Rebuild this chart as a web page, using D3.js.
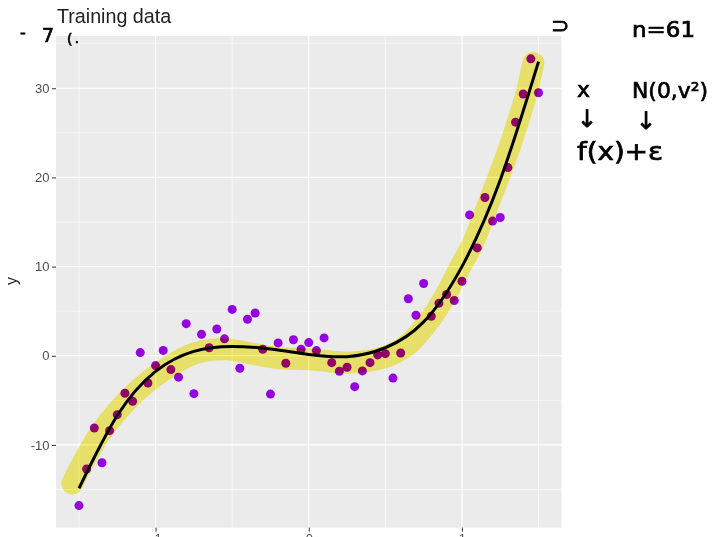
<!DOCTYPE html>
<html>
<head>
<meta charset="utf-8">
<script src="https://cdn.jsdelivr.net/npm/d3@7"></script>
<style>
  html, body { margin: 0; padding: 0; background: #ffffff; }
  svg { display: block; }
  .hand { font-family: "DejaVu Sans", sans-serif; fill: #000; stroke: #000; stroke-width: 0.7px; }
</style>
</head>
<body>
<svg id="chart" width="712" height="537"></svg>
<script>
// Training sample: x on a regular grid, noisy y observations
const pointX = [-1.5,-1.45,-1.4,-1.35,-1.3,-1.25,-1.2,-1.15,-1.1,-1.05,-1.0,
  -0.95,-0.9,-0.85,-0.8,-0.75,-0.7,-0.65,-0.6,-0.55,-0.5,
  -0.45,-0.4,-0.35,-0.3,-0.25,-0.2,-0.15,-0.1,-0.05,0.0,
  0.05,0.1,0.15,0.2,0.25,0.3,0.35,0.4,0.45,0.5,
  0.55,0.6,0.65,0.7,0.75,0.8,0.85,0.9,0.95,1.0,
  1.05,1.1,1.15,1.2,1.25,1.3,1.35,1.4,1.45,1.5];
const pointY = [-16.8,-12.7,-8.1,-12.0,-8.4,-6.6,-4.2,-5.1,0.36,-3.05,-1.1,
  0.6,-1.55,-2.4,3.6,-4.25,2.4,0.9,3.0,1.9,5.2,
  -1.4,4.1,4.8,0.73,-4.3,1.44,-0.84,1.8,0.73,1.48,
  0.58,2.0,-0.77,-1.74,-1.29,-3.46,-1.7,-0.77,0.1,0.24,
  -2.5,0.31,6.4,4.55,8.1,4.43,5.9,6.87,6.2,8.36,
  15.8,12.1,17.75,15.1,15.5,21.1,26.2,29.35,33.3,29.5];

// True regression function f(x)
const curveX = [-1.5,-1.25,-1.0,-0.75,-0.5,-0.25,0.0,0.25,0.5,0.75,1.0,1.25,1.5];
const curveY = [-14.86,-6.7,-1.75,0.5,1.05,0.75,0.15,-0.1,0.9,3.8,10.0,19.7,32.98];

// Highlighter stroke traced along f(x)
const markX = [-1.544,-1.459,-1.362,-1.244,-1.101,-0.938,-0.743,-0.547,-0.352,-0.189,0.007,0.202,0.365,0.528,0.658,0.788,0.886,0.984,1.062,1.127,1.192,1.257,1.322,1.375,1.427,1.466];
const markY = [-14.31,-11.5,-8.7,-6.12,-3.65,-1.52,0.28,0.73,0.17,-0.28,-0.39,-0.73,-0.62,0.06,1.4,3.98,6.57,9.82,12.29,14.98,17.9,20.82,23.96,26.77,29.8,32.83];

const xMajor = [-1, 0, 1];
const xMinor = [-1.5, -0.5, 0.5, 1.5];
const yMajor = [-10, 0, 10, 20, 30];
const yMinor = [-15, -5, 5, 15, 25, 35];

const svg = d3.select("#chart");
const panel = { left: 56, right: 561.5, top: 36, bottom: 527.7 };

const x = d3.scaleLinear().domain([-1.65, 1.65]).range([panel.left, panel.right]);
const y = d3.scaleLinear().domain([-19.28, 35.86]).range([panel.bottom, panel.top]);

// Panel background
svg.append("rect")
  .attr("x", panel.left).attr("y", panel.top)
  .attr("width", panel.right - panel.left).attr("height", panel.bottom - panel.top)
  .attr("fill", "#EBEBEB");

const grid = svg.append("g");
grid.selectAll("line.ymin").data(yMinor).join("line")
  .attr("x1", panel.left).attr("x2", panel.right)
  .attr("y1", d => y(d)).attr("y2", d => y(d))
  .attr("stroke", "#fff").attr("stroke-width", 0.6);
grid.selectAll("line.xmin").data(xMinor).join("line")
  .attr("y1", panel.top).attr("y2", panel.bottom)
  .attr("x1", d => x(d)).attr("x2", d => x(d))
  .attr("stroke", "#fff").attr("stroke-width", 0.6);
grid.selectAll("line.ymaj").data(yMajor).join("line")
  .attr("x1", panel.left).attr("x2", panel.right)
  .attr("y1", d => y(d)).attr("y2", d => y(d))
  .attr("stroke", "#fff").attr("stroke-width", 1.2);
grid.selectAll("line.xmaj").data(xMajor).join("line")
  .attr("y1", panel.top).attr("y2", panel.bottom)
  .attr("x1", d => x(d)).attr("x2", d => x(d))
  .attr("stroke", "#fff").attr("stroke-width", 1.2);

// Axes (plain hyphen-minus labels)
const fmt = d => String(d);
const yAxis = d3.axisLeft(y).tickValues(yMajor).tickFormat(fmt).tickSize(4).tickPadding(2.5);
const gy = svg.append("g").attr("transform", `translate(${panel.left},0)`).call(yAxis);
gy.select(".domain").remove();
gy.selectAll(".tick line").attr("stroke", "#333").attr("stroke-width", 1);
gy.selectAll(".tick text").attr("fill", "#4D4D4D")
  .style("font-family", "'Liberation Sans', Arial, sans-serif").style("font-size", "13px");

const xAxis = d3.axisBottom(x).tickValues(xMajor).tickFormat(fmt).tickSize(4).tickPadding(2.5);
const gx = svg.append("g").attr("transform", `translate(0,${panel.bottom})`).call(xAxis);
gx.select(".domain").remove();
gx.selectAll(".tick line").attr("stroke", "#333").attr("stroke-width", 1);
gx.selectAll(".tick text").attr("fill", "#4D4D4D")
  .style("font-family", "'Liberation Sans', Arial, sans-serif").style("font-size", "13px");

// Axis title
svg.append("text")
  .attr("transform", "translate(17,281) rotate(-90)")
  .attr("text-anchor", "middle")
  .style("font-family", "'Liberation Sans', Arial, sans-serif").style("font-size", "16px")
  .attr("fill", "#222").text("y");

// Plot title
svg.append("text")
  .attr("x", 57).attr("y", 22.5)
  .style("font-family", "'Liberation Sans', Arial, sans-serif").style("font-size", "19.7px")
  .attr("fill", "#222").text("Training data");

// Observations
svg.append("g").selectAll("circle").data(pointX.map((d, i) => [d, pointY[i]])).join("circle")
  .attr("cx", d => x(d[0])).attr("cy", d => y(d[1])).attr("r", 4.5)
  .attr("fill", "#9400E0");

// f(x)
const line = d3.line().x(d => x(d[0])).y(d => y(d[1])).curve(d3.curveNatural);
svg.append("path").datum(curveX.map((d, i) => [d, curveY[i]]))
  .attr("d", line).attr("fill", "none").attr("stroke", "#000").attr("stroke-width", 3);

// Highlighter over the curve
const markLine = d3.line().x(d => x(d[0])).y(d => y(d[1])).curve(d3.curveCatmullRom.alpha(0.5));
svg.append("path").datum(markX.map((d, i) => [d, markY[i]]))
  .attr("d", markLine).attr("fill", "none")
  .attr("stroke", "#FAF474").attr("stroke-width", 22)
  .attr("stroke-linecap", "round").attr("stroke-linejoin", "round")
  .style("mix-blend-mode", "multiply");

// Handwritten notes
const notes = svg.append("g").attr("class", "hand");
notes.append("text").attr("x", 20).attr("y", 38).style("font-size", "16px").text("-");
notes.append("text").attr("x", 42).attr("y", 42).style("font-size", "19px").text("7");
notes.append("text").attr("x", 67).attr("y", 44).style("font-size", "14px").text("(");
notes.append("text").attr("x", 75).attr("y", 43).style("font-size", "12px").text(".");
notes.append("text").attr("x", 551).attr("y", 33).style("font-size", "22px").text("⊃");
notes.append("text").attr("x", 632).attr("y", 37).style("font-size", "21px")
  .attr("textLength", 63).attr("lengthAdjust", "spacingAndGlyphs").text("n=61");
notes.append("text").attr("x", 577).attr("y", 97).style("font-size", "22px").text("x");
notes.append("text").attr("x", 632).attr("y", 98).style("font-size", "22px")
  .attr("textLength", 76).attr("lengthAdjust", "spacingAndGlyphs").text("N(0,v²)");
notes.append("text").attr("x", 577).attr("y", 127).style("font-size", "24px").text("↓");
notes.append("text").attr("x", 636).attr("y", 129).style("font-size", "24px").text("↓");
notes.append("text").attr("x", 577).attr("y", 160).style("font-size", "24px")
  .attr("textLength", 86).attr("lengthAdjust", "spacingAndGlyphs").text("f(x)+ε");
</script>
</body>
</html>
